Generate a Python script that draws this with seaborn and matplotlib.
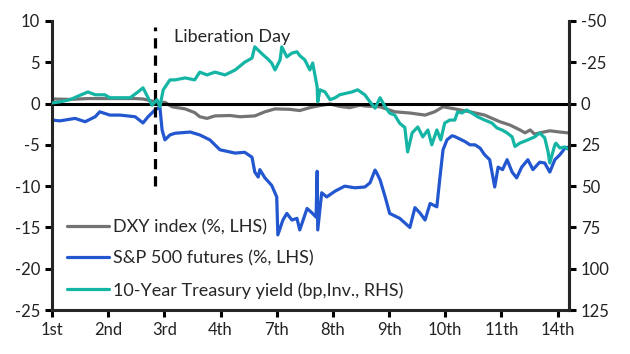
import pandas as pd
import matplotlib.pyplot as plt
import seaborn as sns

# trading days in April (tick positions 0..9)
day_labels = ['1st', '2nd', '3rd', '4th', '7th', '8th', '9th', '10th', '11th', '14th']

# DXY index, % change (LHS)
dxy_t = [0.00, 0.32, 0.64, 0.94, 1.21, 1.48, 1.62, 1.78, 1.92, 2.01, 2.14, 2.37,
         2.54, 2.63, 2.76, 2.90, 3.17, 3.35, 3.61, 3.79, 3.97, 4.23, 4.41, 4.59,
         4.77, 4.95, 5.12, 5.30, 5.48, 5.57, 5.84, 6.10, 6.37, 6.64, 6.81, 6.96,
         7.17, 7.44, 7.70, 7.97, 8.15, 8.33, 8.42, 8.51, 8.59, 8.68, 8.86, 9.04, 9.18]
dxy_pct = [0.55, 0.50, 0.60, 0.60, 0.60, 0.60, 0.55, 0.30, 0.10, 0.15, -0.40, -0.65,
           -1.10, -1.60, -1.80, -1.50, -1.45, -1.60, -1.50, -1.00, -0.65, -0.70, -0.85, -0.50,
           -0.25, -0.05, -0.35, -0.50, -0.20, -0.30, -0.40, -1.00, -1.15, -1.40, -1.00, -0.40,
           -0.65, -1.00, -1.40, -2.20, -2.60, -3.20, -3.55, -3.20, -3.70, -3.55, -3.30, -3.45, -3.55]

# S&P 500 futures, % change (LHS)
spx_t = [0.00, 0.14, 0.32, 0.41, 0.59, 0.77, 0.85, 1.03, 1.21, 1.48, 1.62, 1.71,
         1.83, 1.92, 1.96, 2.01, 2.10, 2.19, 2.46, 2.63, 2.81, 2.99, 3.26, 3.43,
         3.56, 3.61, 3.67, 3.70, 3.79, 3.91, 4.00, 4.02, 4.11, 4.18, 4.27, 4.36,
         4.41, 4.54, 4.63, 4.70, 4.72, 4.73, 4.80, 4.89, 5.04, 5.21, 5.39, 5.57,
         5.66, 5.75, 5.78, 5.84, 5.93, 6.01, 6.19, 6.37, 6.46, 6.55, 6.64, 6.73,
         6.85, 6.90, 6.96, 7.03, 7.12, 7.17, 7.35, 7.44, 7.53, 7.62, 7.70, 7.79,
         7.88, 7.94, 8.02, 8.10, 8.19, 8.27, 8.36, 8.47, 8.56, 8.68, 8.77, 8.86,
         8.95, 9.04, 9.13, 9.18]
spx_pct = [-2.00, -2.10, -1.90, -1.80, -2.20, -1.60, -1.00, -1.40, -1.40, -1.60, -2.35, -1.60,
           -0.80, -0.40, -3.20, -4.40, -3.80, -3.60, -3.45, -3.80, -4.40, -5.60, -6.00, -5.90,
           -6.50, -8.30, -8.90, -8.00, -9.00, -9.90, -11.30, -15.90, -14.10, -13.30, -14.10, -13.90,
           -15.30, -12.70, -13.25, -13.75, -8.20, -15.30, -10.80, -11.30, -10.60, -10.00, -10.20, -10.10,
           -9.60, -8.05, -8.40, -9.25, -11.30, -13.30, -13.90, -15.00, -12.60, -13.25, -14.10, -12.10,
           -12.50, -9.25, -5.60, -4.40, -3.90, -4.00, -4.60, -5.00, -5.00, -5.40, -6.20, -6.80,
           -10.10, -7.70, -8.00, -6.80, -8.30, -9.00, -7.70, -6.80, -8.00, -7.10, -7.20, -8.30,
           -6.80, -6.20, -5.40, -5.30]

# 10-Year Treasury yield, bp change (RHS, inverted)
ust_t = [0.00, 0.14, 0.32, 0.50, 0.64, 0.77, 0.94, 1.03, 1.21, 1.39, 1.53, 1.62,
         1.71, 1.78, 1.87, 1.92, 1.98, 2.10, 2.19, 2.37, 2.54, 2.63, 2.76, 2.90,
         3.08, 3.26, 3.43, 3.56, 3.61, 3.74, 3.84, 3.91, 3.97, 4.06, 4.09, 4.18,
         4.27, 4.36, 4.41, 4.50, 4.59, 4.64, 4.72, 4.73, 4.77, 4.86, 4.95, 5.04,
         5.12, 5.21, 5.34, 5.44, 5.57, 5.66, 5.75, 5.84, 5.93, 6.01, 6.10, 6.19,
         6.28, 6.33, 6.41, 6.51, 6.60, 6.69, 6.76, 6.85, 6.92, 6.99, 7.08, 7.17,
         7.22, 7.30, 7.38, 7.47, 7.58, 7.70, 7.83, 7.92, 8.01, 8.10, 8.19, 8.24,
         8.33, 8.47, 8.59, 8.68, 8.77, 8.83, 8.86, 8.95, 8.97, 9.04, 9.13, 9.18]
ust_bp = [-0.3, -1.0, -2.3, -5.0, -7.0, -5.3, -5.3, -3.5, -3.5, -3.5, -7.0, -9.5,
          -3.5, 1.0, -2.3, 2.0, -8.3, -14.3, -14.3, -15.5, -14.3, -19.0, -17.3, -19.0,
          -17.3, -20.3, -25.0, -27.5, -34.3, -30.0, -27.0, -24.5, -20.3, -26.4, -34.3, -28.2,
          -30.5, -31.3, -29.0, -26.4, -20.3, -24.5, -10.0, -1.0, -8.3, -7.0, -2.3, -3.5,
          -5.3, -6.0, -7.0, -8.3, -5.2, -1.0, 2.8, -3.5, 2.0, 5.8, 7.0, 12.0,
          14.5, 29.3, 17.8, 14.2, 20.2, 16.0, 25.0, 16.0, 22.0, 11.8, 10.0, 10.0,
          5.1, 5.7, 3.9, 5.7, 8.1, 10.0, 11.8, 14.8, 16.0, 17.8, 20.2, 26.0,
          23.9, 22.0, 20.2, 17.8, 20.8, 29.3, 36.0, 25.0, 24.0, 26.9, 26.3, 27.5]

dxy = pd.DataFrame({'t': dxy_t, 'v': dxy_pct})
spx = pd.DataFrame({'t': spx_t, 'v': spx_pct})
ust = pd.DataFrame({'t': ust_t, 'v': ust_bp})

sns.set_style('ticks')
plt.rcParams['font.family'] = ['Lato', 'DejaVu Sans']
plt.rcParams['axes.unicode_minus'] = False

fig = plt.figure(figsize=(6.3, 3.54), dpi=100)
ax = fig.add_axes([0.0825, 0.124, 0.8205, 0.817])
ax2 = ax.twinx()

sns.lineplot(data=dxy, x='t', y='v', ax=ax, color='#737373', lw=2.3,
             estimator=None, label='DXY index (%, LHS)')
sns.lineplot(data=spx, x='t', y='v', ax=ax, color='#2357d0', lw=2.3,
             estimator=None, label='S&P 500 futures (%, LHS)')
sns.lineplot(data=ust, x='t', y='v', ax=ax2, color='#14b5a4', lw=2.3,
             estimator=None, label='10-Year Treasury yield (bp,Inv., RHS)')

ax.axhline(0, color='black', lw=2.2, zorder=5)
ax.vlines(1.83, -10, 9.3, colors='black', linestyles=(0, (3.2, 2.2)), lw=2.3)
ax.text(2.17, 8.0, 'Liberation Day', va='center', fontsize=13)

ax.set_xlim(0, 9.2)
ax.set_ylim(-25, 10)
ax.set_yticks(range(-25, 11, 5))
ax.set_xticks(range(len(day_labels)))
ax.set_xticklabels(day_labels)
ax2.set_ylim(125, -50)
ax2.set_yticks(range(-50, 126, 25))
ax.set_xlabel('')
ax.set_ylabel('')
ax2.set_ylabel('')

for a in (ax, ax2):
    a.spines['top'].set_visible(False)
    for s in a.spines.values():
        s.set_linewidth(2.2)
    a.tick_params(width=2.2, length=5, direction='out', labelsize=12,
                  colors='black', labelcolor='#222222')
ax2.spines['left'].set_visible(False)
ax2.spines['bottom'].set_visible(False)

h1, l1 = ax.get_legend_handles_labels()
h2, l2 = ax2.get_legend_handles_labels()
for a in (ax, ax2):
    if a.get_legend() is not None:
        a.get_legend().remove()
ax2.legend(h1 + h2, l1 + l2, loc='lower left', bbox_to_anchor=(0.03, 0.04),
           frameon=False, fontsize=13, handlelength=2.3, handletextpad=0.2,
           labelspacing=0.85, borderaxespad=0, borderpad=0)

fig.savefig('out.png', dpi=100)
